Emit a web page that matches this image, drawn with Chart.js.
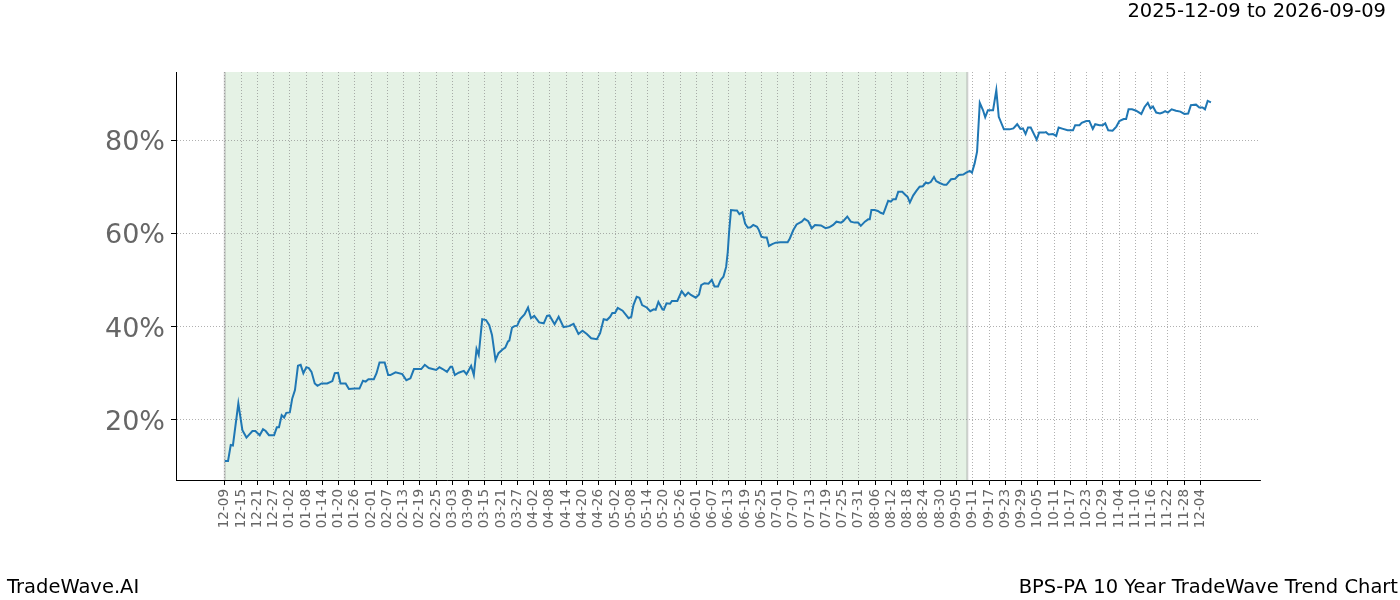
<!DOCTYPE html>
<html>
<head>
<meta charset="utf-8">
<script src="https://cdn.jsdelivr.net/npm/chart.js@4"></script>
<style>
  body { margin: 0; background: #fff; }
  canvas { display: block; }
</style>
</head>
<body>
<canvas id="chart" width="1400" height="600"></canvas>
<script>
// days after 2025-12-09
const days = [
  0, 1.2, 2.2, 3, 5, 6.5, 8, 10.2, 11.3, 12.9, 14.1, 15.1, 16.3, 18.2, 19.2, 20, 21, 21.9, 22.7, 24,
  24.9, 25.9, 27, 28, 29, 30.1, 31, 32, 33.2, 34.2, 35.7, 37.8, 39.7, 40.6, 41.8, 42.7, 44.6, 45.8, 48, 49.7,
  51, 52, 53, 55, 56, 57.1, 59, 60.3, 61.1, 63, 65.5, 67, 68.5, 69.8, 72.5, 73.8, 75.3, 78, 79.2, 80.4,
  82, 83.3, 83.9, 84.9, 86.3, 88.2, 89.2, 90.9, 91.9, 92.9, 93.7, 95, 96.4, 97.6, 98.6, 99.9, 101, 102.5, 103.5, 104.5,
  105, 106, 106.9, 107.9, 109, 110.6, 111.9, 113, 114.2, 116, 117.7, 118.9, 119.8, 121.7, 123.2, 125, 127, 128.7, 130.5, 132,
  133.6, 135.2, 137.3, 138.5, 139.8, 141, 142.2, 143, 144, 145, 146.8, 149, 150, 150.8, 152, 153, 154, 155.7, 157, 158.3,
  159, 160, 161.5, 162, 163, 164.3, 165, 167, 168.6, 169.9, 171, 172, 173.8, 175, 175.8, 177, 178.5, 179.7, 180.7, 182,
  183, 184, 185, 185.6, 186.1, 186.8, 188.3, 189, 189.9, 191, 192, 193, 194, 195, 196.4, 197.1, 198, 199, 200, 200.8,
  202, 203.3, 205, 207.7, 208.5, 209.8, 211, 212.9, 213.9, 215.3, 216.6, 217.8, 220, 221.7, 223, 224.5, 225.7, 227.4, 228.2, 229.7,
  231, 232.4, 233.7, 234.7, 236.2, 237.4, 238, 238.6, 239.8, 241, 242, 243, 243.8, 244.8, 245.8, 246.6, 247.6, 248.5, 250, 250.9,
  252, 252.8, 254, 255.2, 256.4, 257.6, 258.7, 259.5, 260.5, 261.7, 262.5, 263.8, 265.4, 266.3, 268, 269.5, 270.8, 272.5, 273.6, 274.9,
  275.7, 276.7, 277.6, 278.6, 279.8, 280.6, 281.6, 283.5, 284.7, 285.6, 287.5, 289.6, 291, 292.4, 293.6, 294.5, 295.5, 296.4, 297.4, 299.6,
  300.5, 302.3, 303, 304, 305.6, 306.8, 307.7, 309.3, 311, 313, 313.8, 315.4, 316.2, 317.9, 319, 320.3, 321.2, 322.8, 324, 324.9,
  326, 327.6, 329, 330.1, 331.7, 332.6, 333.5, 334.8, 336.3, 338.2, 339.4, 340.6, 341.6, 342.5, 343.7, 345.1, 346.1, 347, 348, 349.4,
  351, 352.6, 354.1, 355.5, 356.5, 358.4, 359.6, 360.8, 361.7, 362.7, 363.9
];

// trend value in percent
const values = [
  11.2, 11.2, 14.6, 14.5, 23.5, 17.8, 16.2, 17.6, 17.6, 16.7, 18.0, 17.6, 16.7, 16.7, 18.4, 18.4, 21.0, 20.5, 21.5, 21.6,
  24.6, 26.4, 31.6, 31.8, 30.0, 31.3, 31.1, 30.3, 27.8, 27.3, 27.8, 27.8, 28.3, 30.0, 30.1, 27.8, 27.8, 26.6, 26.7, 26.7,
  28.4, 28.2, 28.7, 28.7, 30.0, 32.3, 32.3, 29.6, 29.6, 30.2, 29.8, 28.5, 28.9, 30.9, 30.9, 31.8, 31.1, 30.7, 31.3, 30.9,
  30.3, 31.4, 31.4, 29.6, 30.1, 30.5, 29.8, 31.6, 29.6, 35.2, 33.9, 41.6, 41.4, 40.3, 38.2, 32.8, 34.3, 35.1, 35.5, 36.8,
  37.0, 39.8, 40.1, 40.2, 41.6, 42.6, 44.1, 41.8, 42.3, 40.9, 40.7, 42.3, 42.4, 40.5, 42.1, 39.9, 40.1, 40.6, 38.4, 39.1,
  38.4, 37.5, 37.3, 38.6, 41.6, 41.4, 42.1, 42.9, 42.9, 44.0, 43.4, 41.8, 42.1, 44.6, 46.4, 46.2, 44.6, 44.1, 43.3, 43.7,
  43.6, 45.3, 43.7, 43.6, 45.0, 44.9, 45.5, 45.5, 47.6, 46.6, 47.3, 46.8, 46.2, 46.9, 48.9, 49.3, 49.2, 50.0, 48.6, 48.6,
  50.0, 50.7, 52.8, 56.0, 60.3, 65.0, 64.9, 64.9, 64.1, 64.5, 62.1, 61.2, 61.3, 61.8, 61.4, 60.7, 59.3, 59.1, 59.1, 57.3,
  57.7, 58.0, 58.1, 58.1, 58.9, 60.7, 61.9, 62.5, 63.1, 62.6, 61.1, 61.8, 61.7, 61.1, 61.3, 61.8, 62.5, 62.3, 62.6, 63.6,
  62.5, 62.3, 62.3, 61.6, 62.5, 63.0, 63.0, 65.0, 65.0, 64.8, 64.4, 64.2, 65.4, 67.0, 66.8, 67.3, 67.3, 68.9, 68.9, 68.4,
  67.8, 66.6, 68.1, 69.1, 70.0, 70.1, 70.9, 70.7, 71.0, 72.1, 71.2, 70.8, 70.4, 70.4, 71.6, 71.7, 72.5, 72.6, 73.0, 73.4,
  73.0, 75.0, 77.5, 88.0, 86.4, 84.9, 86.4, 86.4, 90.7, 85.0, 82.3, 82.3, 82.5, 83.4, 82.4, 82.5, 81.3, 82.7, 82.7, 80.1,
  81.6, 81.6, 81.7, 81.2, 81.3, 80.9, 82.7, 82.4, 82.1, 82.1, 83.2, 83.2, 83.7, 84.1, 84.1, 82.4, 83.4, 83.2, 83.2, 83.6,
  82.1, 82.0, 82.9, 84.1, 84.5, 84.5, 86.6, 86.6, 86.3, 85.6, 87.1, 88.0, 86.8, 87.2, 85.9, 85.7, 85.9, 86.2, 85.9, 86.6,
  86.3, 86.1, 85.6, 85.7, 87.5, 87.6, 87.0, 87.0, 86.6, 88.4, 88.1
];

const tickLabels = [
  '12-09', '12-15', '12-21', '12-27', '01-02', '01-08', '01-14', '01-20', '01-26', '02-01',
  '02-07', '02-13', '02-19', '02-25', '03-03', '03-09', '03-15', '03-21', '03-27', '04-02',
  '04-08', '04-14', '04-20', '04-26', '05-02', '05-08', '05-14', '05-20', '05-26', '06-01',
  '06-07', '06-13', '06-19', '06-25', '07-01', '07-07', '07-13', '07-19', '07-25', '07-31',
  '08-06', '08-12', '08-18', '08-24', '08-30', '09-05', '09-11', '09-17', '09-23', '09-29',
  '10-05', '10-11', '10-17', '10-23', '10-29', '11-04', '11-10', '11-16', '11-22', '11-28', '12-04'
];
const tickDays = tickLabels.map((_, i) => i * 6);
const yTicks = [20, 40, 60, 80];

// shaded training window: 2025-12-09 .. 2026-09-09
const shadeStart = 0;
const shadeEnd = 274;

const titleText = '2025-12-09 to 2026-09-09';
const footLeft = 'TradeWave.AI';
const footRight = 'BPS-PA 10 Year TradeWave Trend Chart';

const FONT = '"DejaVu Sans", sans-serif';

const backdrop = {
  id: 'backdrop',
  beforeDraw(chart) {
    const { ctx, chartArea, scales } = chart;
    ctx.save();
    ctx.fillStyle = '#fff';
    ctx.fillRect(0, 0, chart.width, chart.height);
    const x0 = scales.x.getPixelForValue(shadeStart);
    const x1 = scales.x.getPixelForValue(shadeEnd);
    ctx.fillStyle = 'rgba(0, 128, 0, 0.1)';
    ctx.fillRect(x0, chartArea.top, x1 - x0, chartArea.bottom - chartArea.top);
    ctx.strokeStyle = 'rgba(128, 128, 128, 0.35)';
    ctx.lineWidth = 2;
    ctx.beginPath();
    ctx.moveTo(x0, chartArea.top); ctx.lineTo(x0, chartArea.bottom);
    ctx.moveTo(x1, chartArea.top); ctx.lineTo(x1, chartArea.bottom);
    ctx.stroke();
    ctx.restore();
  },
  afterDraw(chart) {
    const ctx = chart.ctx;
    ctx.save();
    ctx.fillStyle = '#000';
    ctx.font = '19.5px ' + FONT;
    ctx.textBaseline = 'middle';
    ctx.textAlign = 'right';
    ctx.fillText(titleText, 1386, 12);
    ctx.fillText(footRight, 1398, 588);
    ctx.textAlign = 'left';
    ctx.fillText(footLeft, 7, 588);
    ctx.restore();
  }
};

const gridOpts = {
  color: 'rgba(130,130,130,0.8)',
  lineWidth: 0.8,
  tickLength: 5,
  tickColor: '#000',
  tickWidth: 1,
  tickBorderDash: []
};

new Chart(document.getElementById('chart'), {
  type: 'line',
  data: {
    datasets: [{
      data: days.map((d, i) => ({ x: d, y: values[i] })),
      borderColor: '#1f77b4',
      borderWidth: 2,
      pointRadius: 0,
      tension: 0,
      fill: false
    }]
  },
  options: {
    responsive: false,
    devicePixelRatio: 1,
    animation: false,
    layout: { padding: { top: 72, right: 140, bottom: 0, left: 0 } },
    plugins: { legend: { display: false }, tooltip: { enabled: false } },
    scales: {
      x: {
        type: 'linear',
        min: -18,
        max: 382,
        afterBuildTicks: (scale) => { scale.ticks = tickDays.map(v => ({ value: v })); },
        afterFit: (scale) => { scale.height = 120; },
        border: { display: true, color: '#000', width: 1, dash: [1, 2] },
        grid: gridOpts,
        ticks: {
          autoSkip: false,
          minRotation: 90,
          maxRotation: 90,
          padding: 4,
          color: '#666',
          font: { family: FONT, size: 13.5 },
          callback: (v, i) => tickLabels[i]
        }
      },
      y: {
        type: 'linear',
        min: 7.1,
        max: 94.6,
        afterBuildTicks: (scale) => { scale.ticks = yTicks.map(v => ({ value: v })); },
        afterFit: (scale) => { scale.width = 176; },
        border: { display: true, color: '#000', width: 1, dash: [1, 2] },
        grid: gridOpts,
        ticks: {
          padding: 6,
          labelOffset: 3,
          color: '#666',
          font: { family: FONT, size: 27 },
          callback: (v) => v + '%'
        }
      }
    }
  },
  plugins: [backdrop]
});
</script>
</body>
</html>
